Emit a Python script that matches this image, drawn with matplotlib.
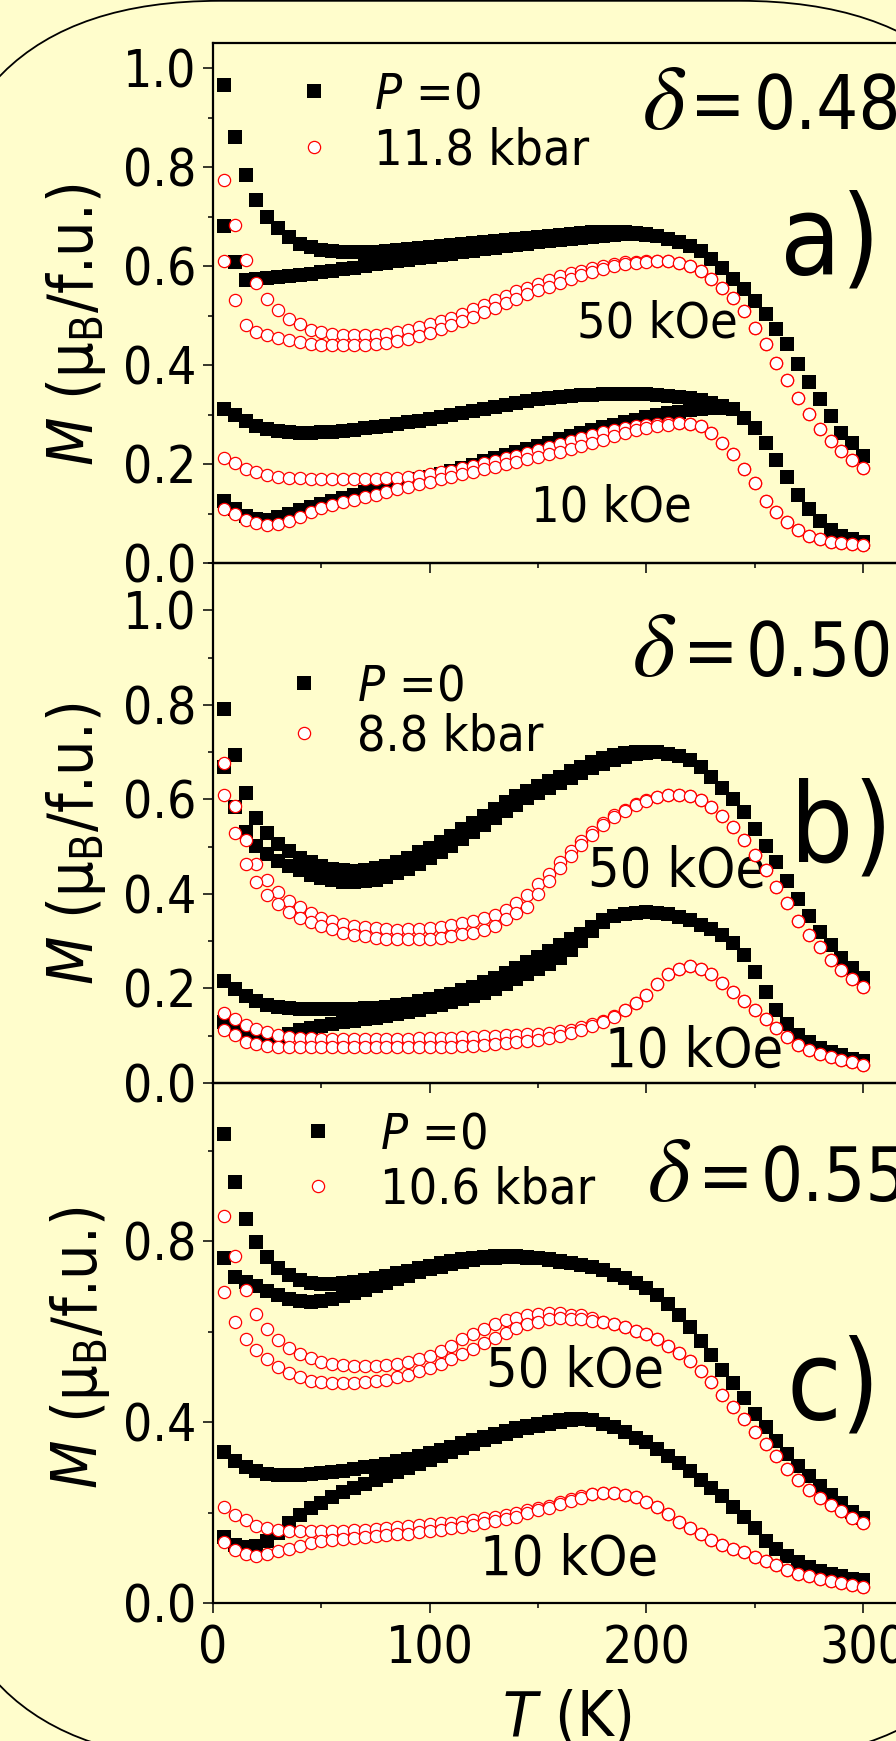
import numpy as np
import matplotlib
matplotlib.use('Agg')
import matplotlib.pyplot as plt
from matplotlib.patches import FancyBboxPatch
from matplotlib.ticker import MultipleLocator

plt.rcParams['font.family'] = ['DejaVu Sans']
plt.rcParams['font.stretch'] = 'condensed'
plt.rcParams['mathtext.fontset'] = 'custom'
plt.rcParams['mathtext.rm'] = 'DejaVu Sans:stretch=condensed'
plt.rcParams['mathtext.it'] = 'DejaVu Sans:italic:stretch=condensed'

# temperature grid (K)
T = [5, 10, 15, 20, 25, 30, 35, 40, 45, 50, 55, 60, 65, 70, 75, 80, 85, 90, 95, 100,
     105, 110, 115, 120, 125, 130, 135, 140, 145, 150, 155, 160, 165, 170, 175, 180, 185, 190, 195, 200,
     205, 210, 215, 220, 225, 230, 235, 240, 245, 250, 255, 260, 265, 270, 275, 280, 285, 290, 295, 300]

# ---- a) delta = 0.48, P = 0 / 11.8 kbar ----
a_fc50_p0 = [.967, .861, .784, .733, .700, .678, .660, .646, .638, .633, .630, .628, .628, .628, .629, .630, .632, .634, .636, .638,
             .640, .642, .645, .647, .649, .652, .654, .656, .658, .660, .662, .664, .666, .668, .669, .670, .670, .669, .668, .666,
             .661, .655, .650, .641, .630, .615, .596, .574, .554, .530, .504, .474, .443, .403, .366, .332, .297, .263, .243, .217]
a_zfc50_p0 = [.682, .608, .572, .575, .577, .579, .581, .583, .585, .588, .591, .594, .597, .600, .604, .607, .610, .613, .616, .619,
              .622, .625, .628, .631, .634, .637, .640, .643, .646, .649, .651, .653, .656, .658, .660, .662, .664, .665, .665, .664,
              .661, .655, .650, .641, .630, .615, .596, .574, .554, .530, .504, .474, .443, .403, .366, .332, .297, .263, .243, .217]
a_fc10_p0 = [.312, .299, .287, .277, .270, .266, .264, .263, .263, .264, .265, .267, .269, .272, .275, .278, .281, .285, .288, .292,
             .296, .300, .303, .307, .311, .315, .319, .323, .327, .331, .333, .335, .337, .339, .340, .341, .342, .342, .342, .341,
             .340, .338, .336, .334, .330, .324, .318, .312, .294, .273, .243, .208, .174, .137, .109, .085, .066, .055, .048, .042]
a_zfc10_p0 = [.125, .109, .096, .089, .087, .092, .100, .108, .114, .120, .126, .132, .137, .143, .148, .153, .158, .164, .169, .174,
              .180, .186, .193, .199, .206, .212, .218, .225, .231, .237, .243, .250, .256, .262, .268, .274, .280, .285, .290, .295,
              .299, .303, .306, .309, .311, .313, .314, .312, .294, .273, .243, .208, .174, .137, .109, .085, .066, .055, .048, .042]
a_fc50_p = [.774, .684, .612, .567, .533, .511, .494, .483, .472, .467, .463, .461, .460, .460, .461, .463, .467, .471, .477, .483,
            .489, .496, .504, .513, .522, .531, .540, .549, .557, .565, .573, .580, .586, .591, .597, .601, .605, .608, .609, .610,
            .610, .610, .606, .600, .591, .574, .557, .535, .509, .476, .442, .405, .370, .333, .302, .271, .246, .227, .208, .193]
a_zfc50_p = [.610, .532, .482, .468, .461, .455, .450, .446, .443, .441, .440, .440, .440, .441, .442, .444, .448, .453, .459, .466,
             .473, .481, .489, .498, .507, .516, .525, .534, .543, .551, .559, .567, .575, .582, .589, .595, .600, .604, .607, .609,
             .610, .610, .606, .600, .591, .574, .557, .535, .509, .476, .442, .405, .370, .333, .302, .271, .246, .227, .208, .193]
a_fc10_p = [.213, .203, .191, .183, .178, .174, .172, .171, .170, .170, .170, .170, .170, .170, .170, .171, .172, .173, .176, .179,
            .183, .187, .192, .197, .202, .207, .212, .217, .222, .228, .234, .240, .247, .253, .259, .264, .269, .273, .277, .280,
            .282, .284, .284, .282, .277, .263, .243, .221, .191, .161, .126, .103, .082, .066, .055, .048, .043, .040, .038, .036]
a_zfc10_p = [.109, .099, .087, .080, .077, .079, .085, .094, .104, .111, .117, .123, .128, .133, .138, .144, .149, .154, .159, .164,
             .169, .174, .179, .185, .190, .195, .200, .205, .210, .215, .220, .225, .231, .237, .243, .249, .256, .262, .268, .273,
             .277, .280, .283, .282, .277, .263, .243, .221, .191, .161, .126, .103, .082, .066, .055, .048, .043, .040, .038, .036]

# ---- b) delta = 0.50, P = 0 / 8.8 kbar ----
b_fc50_p0 = [.791, .693, .614, .561, .528, .505, .490, .477, .467, .459, .453, .450, .448, .450, .454, .460, .468, .477, .488, .498,
             .510, .523, .537, .551, .565, .580, .594, .607, .618, .628, .638, .648, .659, .669, .679, .687, .693, .698, .700, .700,
             .700, .697, .691, .683, .668, .648, .625, .600, .573, .537, .502, .467, .428, .389, .353, .320, .291, .264, .244, .223]
b_zfc50_p0 = [.668, .584, .530, .502, .484, .470, .459, .450, .441, .434, .429, .426, .425, .427, .430, .436, .444, .453, .464, .475,
              .488, .502, .516, .531, .545, .560, .575, .589, .602, .614, .625, .635, .646, .656, .666, .675, .683, .690, .695, .698,
              .700, .697, .691, .683, .668, .648, .625, .600, .573, .537, .502, .467, .428, .389, .353, .320, .291, .264, .244, .223]
b_fc10_p0 = [.216, .199, .184, .173, .166, .161, .158, .157, .156, .156, .156, .157, .157, .158, .159, .161, .164, .168, .173, .178,
             .183, .189, .196, .204, .213, .222, .233, .244, .255, .266, .279, .292, .304, .316, .330, .345, .353, .357, .360, .361,
             .360, .357, .352, .345, .335, .325, .314, .296, .270, .234, .192, .155, .125, .101, .087, .075, .066, .059, .051, .046]
b_zfc10_p0 = [.128, .116, .105, .098, .093, .094, .104, .112, .117, .121, .125, .128, .131, .135, .138, .142, .146, .151, .155, .160,
              .165, .171, .177, .184, .191, .199, .209, .219, .230, .241, .252, .264, .282, .300, .322, .340, .353, .357, .360, .361,
              .360, .357, .352, .345, .335, .325, .314, .296, .270, .234, .192, .155, .125, .101, .087, .075, .066, .059, .051, .046]
b_fc50_p = [.676, .586, .513, .464, .430, .405, .385, .373, .360, .350, .342, .337, .332, .329, .327, .325, .324, .325, .326, .328,
            .331, .334, .338, .342, .348, .356, .366, .380, .398, .420, .442, .467, .491, .511, .531, .550, .566, .578, .590, .598,
            .605, .609, .610, .607, .598, .584, .565, .541, .514, .482, .450, .414, .380, .342, .314, .287, .261, .239, .221, .204]
b_zfc50_p = [.609, .528, .464, .425, .398, .378, .362, .350, .340, .332, .325, .318, .313, .310, .307, .305, .304, .304, .304, .305,
             .307, .310, .315, .318, .323, .332, .347, .359, .373, .400, .428, .455, .481, .503, .524, .545, .563, .576, .588, .597,
             .605, .609, .610, .607, .598, .584, .565, .541, .514, .482, .450, .414, .380, .342, .314, .287, .261, .239, .221, .204]
b_fc10_p = [.149, .136, .123, .114, .107, .102, .098, .096, .095, .094, .094, .094, .094, .094, .094, .094, .094, .094, .095, .095,
            .095, .096, .097, .098, .099, .100, .101, .102, .103, .104, .106, .109, .113, .118, .124, .132, .141, .155, .169, .187,
            .209, .230, .242, .247, .242, .230, .212, .192, .173, .155, .136, .116, .098, .080, .069, .061, .054, .049, .044, .039]
b_zfc10_p = [.112, .102, .087, .082, .078, .076, .076, .076, .076, .076, .076, .076, .076, .076, .076, .076, .076, .076, .076, .076,
             .077, .077, .078, .079, .080, .082, .084, .086, .089, .092, .096, .100, .106, .113, .120, .130, .140, .155, .169, .187,
             .209, .230, .242, .247, .242, .230, .212, .192, .173, .155, .136, .116, .098, .080, .069, .061, .054, .049, .044, .039]

# ---- c) delta = 0.55, P = 0 / 10.6 kbar ----
c_fc50_p0 = [1.037, .930, .850, .799, .765, .740, .726, .714, .707, .705, .705, .707, .711, .714, .718, .723, .729, .735, .740, .746,
             .752, .757, .761, .764, .766, .768, .768, .768, .766, .764, .760, .756, .752, .748, .744, .737, .726, .718, .707, .696,
             .681, .662, .638, .610, .580, .548, .516, .486, .454, .419, .389, .359, .329, .303, .280, .258, .239, .221, .202, .187]
c_zfc50_p0 = [.763, .722, .711, .701, .690, .681, .673, .668, .666, .668, .673, .679, .686, .693, .701, .708, .716, .723, .731, .738,
              .744, .750, .755, .759, .762, .764, .765, .765, .764, .762, .759, .755, .752, .748, .744, .737, .726, .718, .707, .696,
              .681, .662, .638, .610, .580, .548, .516, .486, .454, .419, .389, .359, .329, .303, .280, .258, .239, .221, .202, .187]
c_fc10_p0 = [.333, .314, .301, .292, .286, .284, .283, .283, .285, .287, .290, .293, .297, .301, .304, .308, .313, .318, .324, .331,
             .338, .346, .353, .361, .368, .374, .380, .386, .391, .396, .401, .405, .408, .408, .404, .396, .389, .378, .366, .355,
             .340, .325, .310, .292, .273, .254, .236, .213, .191, .165, .138, .120, .105, .090, .079, .071, .065, .060, .054, .050]
c_zfc10_p0 = [.146, .129, .123, .127, .137, .155, .177, .194, .209, .222, .234, .245, .254, .263, .272, .280, .289, .298, .307, .316,
              .325, .334, .343, .352, .360, .367, .374, .380, .386, .391, .396, .400, .404, .406, .404, .396, .389, .378, .366, .355,
              .340, .325, .310, .292, .273, .254, .236, .213, .191, .165, .138, .120, .105, .090, .079, .071, .065, .060, .054, .050]
c_fc50_p = [.856, .767, .692, .640, .606, .582, .565, .551, .541, .533, .529, .526, .525, .525, .525, .526, .529, .533, .539, .546,
            .557, .568, .583, .595, .606, .617, .625, .631, .636, .639, .641, .641, .638, .636, .630, .622, .616, .611, .602, .595,
            .583, .568, .553, .535, .512, .488, .460, .434, .408, .378, .352, .325, .297, .273, .251, .232, .217, .204, .189, .177]
c_zfc50_p = [.688, .622, .583, .559, .539, .521, .509, .500, .492, .488, .486, .486, .486, .488, .490, .494, .499, .505, .512, .520,
             .529, .539, .550, .561, .574, .585, .598, .608, .616, .622, .627, .631, .629, .628, .624, .622, .616, .611, .602, .595,
             .583, .568, .553, .535, .512, .488, .460, .434, .408, .378, .352, .325, .297, .273, .251, .232, .217, .204, .189, .177]
c_fc10_p = [.213, .194, .183, .170, .165, .161, .159, .159, .159, .159, .160, .160, .161, .162, .164, .166, .168, .170, .172, .174,
            .176, .178, .180, .183, .187, .191, .195, .200, .205, .210, .215, .224, .230, .236, .242, .243, .243, .239, .234, .224,
            .212, .197, .180, .165, .152, .140, .129, .120, .112, .102, .093, .084, .074, .065, .059, .054, .049, .044, .040, .035]
c_zfc10_p = [.135, .117, .108, .105, .108, .114, .120, .127, .132, .137, .140, .142, .144, .146, .148, .150, .152, .153, .156, .159,
             .162, .165, .168, .172, .176, .181, .186, .191, .198, .205, .210, .218, .226, .233, .240, .243, .243, .239, .234, .224,
             .212, .197, .180, .165, .152, .140, .129, .120, .112, .102, .093, .084, .074, .065, .059, .054, .049, .044, .040, .035]

panels = [
    dict(p0=[a_fc50_p0, a_zfc50_p0, a_fc10_p0, a_zfc10_p0], p=[a_fc50_p, a_zfc50_p, a_fc10_p, a_zfc10_p],
         ylim=1.052, major=0.2, minor=0.1, pressure='11.8 kbar', delta='0.48', tag='a)'),
    dict(p0=[b_fc50_p0, b_zfc50_p0, b_fc10_p0, b_zfc10_p0], p=[b_fc50_p, b_zfc50_p, b_fc10_p, b_zfc10_p],
         ylim=1.10, major=0.2, minor=0.1, pressure='8.8 kbar', delta='0.50', tag='b)'),
    dict(p0=[c_fc50_p0, c_zfc50_p0, c_fc10_p0, c_zfc10_p0], p=[c_fc50_p, c_zfc50_p, c_fc10_p, c_zfc10_p],
         ylim=1.15, major=0.4, minor=0.2, pressure='10.6 kbar', delta='0.55', tag='c)'),
]

W, H = 896, 1741
BG = '#FFFDCC'
fig = plt.figure(figsize=(W / 100, H / 100), dpi=100, facecolor=BG)

# rounded frame behind everything
bg = fig.add_axes([0, 0, 1, 1], zorder=-1)
bg.set_xlim(0, W)
bg.set_ylim(H, 0)
bg.axis('off')
bg.add_patch(FancyBboxPatch((-70, 0.8), 1100, 1760, boxstyle='round,pad=0,rounding_size=290',
                            fc=BG, ec='black', lw=1.3))

# axes boxes in pixels: (top, bottom)
boxes = [(42.7, 563), (563, 1083), (1083, 1603)]
x0, xscale = 213, 2.1667
xmax = 326

# text placement (data coords)
lab50 = [(168.0, 0.456, 36), (173.0, 0.415, 40), (125.9, 0.479, 40)]
lab10 = [(146.7, 0.083, 36), (180.9, 0.034, 40), (123.2, 0.062, 40)]
dpos = [(198.5, 0.878), (193.8, 0.862), (200.8, 0.888)]   # delta symbol
epos = [220.1, 216.9, 223.8]                              # "=" sign
npos = [249.7, 246.0, 252.9]                              # number
tpos = [(261.5, 0.586), (266.2, 0.469), (264.5, 0.409)]
legpos = [(0.1070, 0.8466, 0.175, 0.70), (0.0930, 0.7144, 0.04, 0.57), (0.1127, 0.848, 0.146, 0.74)]
ylab_y = [325, 844, 1348]
ylab_x = [76, 76, 80]

for i, pn in enumerate(panels):
    top, bot = boxes[i]
    ax = fig.add_axes([x0 / W, 1 - bot / H, xmax * xscale / W, (bot - top) / H])
    ax.set_facecolor('none')
    for m in pn['p0']:
        hb, = ax.plot(T, m, 's', color='black', ms=9.5, mew=0, ls='none', zorder=3)
    for m in pn['p']:
        hr, = ax.plot(T, m, 'o', mfc='white', mec='red', ms=8.8, mew=0.9, ls='none', zorder=4)
    ax.set_xlim(0, xmax)
    ax.set_ylim(0, pn['ylim'])
    ax.xaxis.set_major_locator(MultipleLocator(100))
    ax.xaxis.set_minor_locator(MultipleLocator(50))
    ax.yaxis.set_major_locator(MultipleLocator(pn['major']))
    ax.yaxis.set_minor_locator(MultipleLocator(pn['minor']))
    ax.tick_params(which='major', direction='out', length=7.2, width=1.1, labelsize=37, pad=5)
    ax.tick_params(which='minor', direction='out', length=3.6, width=1.1)
    ax.tick_params(axis='x', pad=8)
    if i < 2:
        ax.tick_params(axis='x', labelbottom=False)
    for s in ax.spines.values():
        s.set_linewidth(1.6)

    lx, ly, lsp, tp = legpos[i]
    ax.legend([hb, hr], [r'$P$ =0', pn['pressure']], loc='center left', bbox_to_anchor=(lx, ly),
              frameon=False, fontsize=36, handlelength=1.0, handletextpad=tp, labelspacing=lsp,
              borderpad=0, borderaxespad=0, numpoints=1)

    tx, ty, fs = lab50[i]
    ax.text(tx, ty, '50 kOe', fontsize=fs, ha='left', va='baseline')
    tx, ty, fs = lab10[i]
    ax.text(tx, ty, '10 kOe', fontsize=fs, ha='left', va='baseline')
    ax.text(dpos[i][0], dpos[i][1], 'δ', fontsize=66, family='STIXGeneral', style='italic',
            ha='left', va='baseline')
    ax.text(epos[i], dpos[i][1], '=', fontsize=53, ha='left', va='baseline')
    ax.text(npos[i], dpos[i][1], pn['delta'], fontsize=53, ha='left', va='baseline')
    ax.text(tpos[i][0], tpos[i][1], pn['tag'], fontsize=80, ha='left', va='baseline')

    fig.text(ylab_x[i] / W, 1 - ylab_y[i] / H, r'$M$ ($\mathrm{\mu}_\mathrm{B}$/f.u.)', fontsize=45,
             rotation=90, ha='center', va='center')

fig.text(567 / W, 1 - 1735 / H, r'$T$ (K)', fontsize=45, ha='center', va='baseline')

fig.savefig('out.png', dpi=100, facecolor=BG)
